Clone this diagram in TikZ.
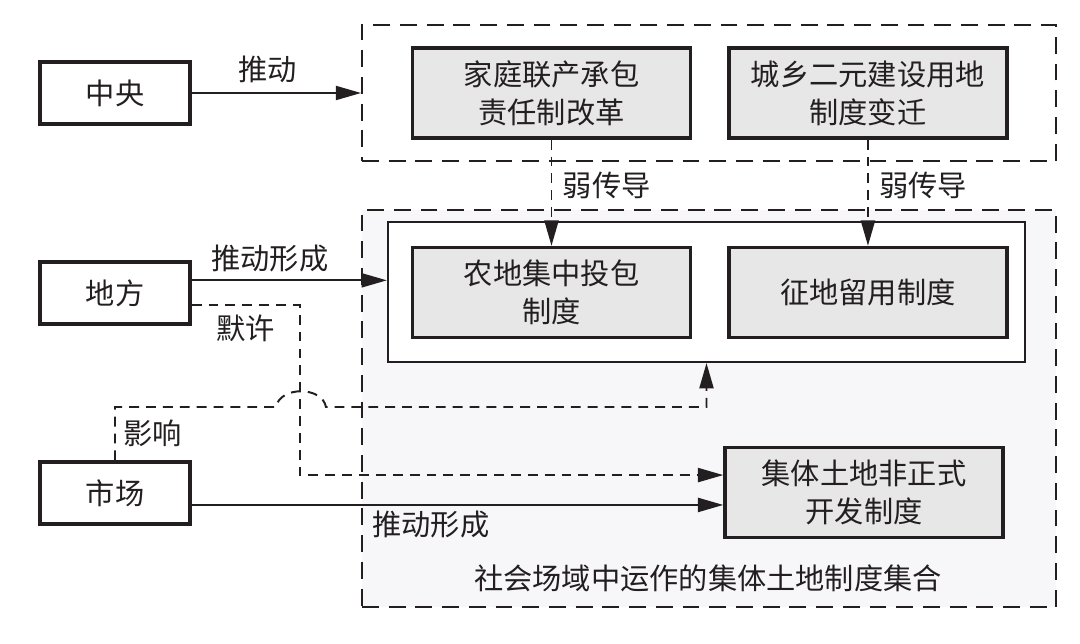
\documentclass[tikz,border=0pt]{standalone}
\usepackage{fontspec}
\setmainfont{Noto Sans CJK SC}
\usetikzlibrary{arrows.meta,positioning}

\definecolor{boxgray}{RGB}{231,231,231}
\definecolor{fieldgray}{RGB}{247,247,249}
\definecolor{ink}{RGB}{35,31,32}

\begin{document}
\begin{tikzpicture}[x=0.025cm,y=-0.025cm,>={Triangle[length=18pt,width=10pt]},
    font=\fontsize{20.8}{27}\selectfont,color=ink]
  \tikzstyle{actor}=[rectangle,draw,line width=2.4pt,minimum width=3.75cm,minimum height=1.55cm]
  \tikzstyle{inst}=[rectangle,draw,line width=2.4pt,fill=boxgray,minimum width=6.95cm,minimum height=2.25cm,align=center]
  \tikzstyle{group}=[rectangle,draw,line width=1.2pt,dash pattern=on 12pt off 7pt]
  \tikzstyle{flow}=[->,line width=1.4pt]
  \tikzstyle{weak}=[->,line width=1.4pt,dash pattern=on 7pt off 5pt]

  \useasboundingbox (0,0) rectangle (1080,644);

  % dashed frames
  \node [group,fill=fieldgray,minimum width=17.35cm,minimum height=9.925cm] (field) at (709,408.5) {};
  \node [group,minimum width=17.35cm,minimum height=3.4cm] (top) at (709,93) {};
  \node [draw,line width=1.5pt,fill=white,minimum width=15.925cm,minimum height=3.5cm] (inner) at (706.5,292) {};

  % actors
  \node [actor] (zhongyang) at (115,93) {中央};
  \node [actor] (difang)    at (115,293) {地方};
  \node [actor] (shichang)  at (115,493) {市场};

  % institutions
  \node [inst] (chengbao)   at (551.5,93) {家庭联产承包\\责任制改革};
  \node [inst] (chengxiang) [right=0.875cm of chengbao] {城乡二元建设用地\\制度变迁};
  \node [inst] (nongdi)     at (551.5,292.5) {农地集中投包\\制度};
  \node [inst] (zhengdi)    [right=0.875cm of nongdi] {征地留用制度};
  \node [inst] (jiti)       at (864,492.5) {集体土地非正式\\开发制度};
  \node (jihe) at (708,578) {社会场域中运作的集体土地制度集合};

  \coordinate (cross) at (300,407);
  \coordinate (hopL) at (276,407);
  \coordinate (hopR) at (326,407);

  % arrows
  \draw [flow] (zhongyang) -- node[above=3pt,pos=0.45] {推动} (top);
  \draw [flow] ([yshift=9pt]difang.east) -- node[above=2pt,pos=0.4] {推动形成} ([yshift=9pt]difang.east -| inner.west);
  \draw [weak] (chengbao) -- node[right=4pt,pos=0.43] {弱传导} (nongdi);
  \draw [weak] (chengxiang) -- node[right=4pt,pos=0.43] {弱传导} (zhengdi);
  \draw [weak] ([yshift=-8.5pt]difang.east) -- node[below=3pt] {默许} ([yshift=-8.5pt]difang.east -| cross)
        -- (cross) |- ([yshift=12.4pt]jiti.west);
  \draw [weak] (shichang.north) -- node[right=2pt] {影响} (shichang.north |- hopL) -- (hopL)
        .. controls (280,386) and (322,386) .. (hopR) -| (inner.south);
  \draw [flow] ([yshift=-8.5pt]shichang.east) -- node[below=0pt,pos=0.45] {推动形成} ([yshift=-8.5pt]shichang.east -| jiti.west);
\end{tikzpicture}
\end{document}
